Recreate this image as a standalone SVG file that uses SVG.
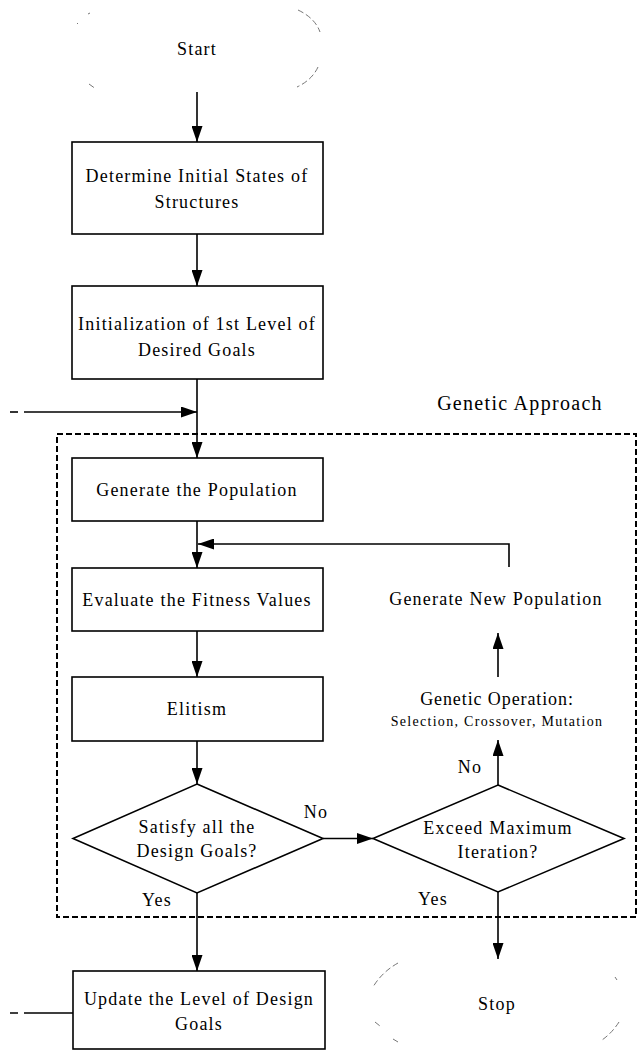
<svg xmlns="http://www.w3.org/2000/svg" width="639" height="1050" viewBox="0 0 639 1050">
<style>
.t{font-family:"Liberation Serif","Times New Roman",serif;font-size:18px;letter-spacing:1.2px;text-anchor:middle;fill:#000}
.s{font-size:14px;letter-spacing:1.3px}
.box{fill:#fff;stroke:#000;stroke-width:1.6}
.ell{fill:none;stroke:#666;stroke-width:0.9;stroke-dasharray:6 3}
.ln{fill:none;stroke:#000;stroke-width:1.6}
.dash{fill:none;stroke:#000;stroke-width:2;stroke-dasharray:6 3}
</style>
<defs>
<marker id="ah" markerUnits="userSpaceOnUse" markerWidth="16" markerHeight="11" refX="16" refY="5.5" orient="auto">
<path d="M0,0 L16,5.5 L0,11 z" fill="#000"/>
</marker>
</defs>
<rect width="639" height="1050" fill="#fff"/>
<g id="genetic-approach">
<rect class="dash" x="57" y="434" width="579" height="483"/>
<text class="t" x="520" y="410" style="font-size:20px;letter-spacing:1.3px">Genetic Approach</text>
</g>
<g id="connectors">
<line class="ln" x1="197" y1="92" x2="197" y2="142" marker-end="url(#ah)"/>
<line class="ln" x1="197" y1="234" x2="197" y2="286" marker-end="url(#ah)"/>
<line class="ln" x1="197" y1="379" x2="197" y2="458" marker-end="url(#ah)"/>
<path class="ln" d="M10,412 h8"/>
<line class="ln" x1="24" y1="412" x2="197" y2="412" marker-end="url(#ah)"/>
<line class="ln" x1="197" y1="521" x2="197" y2="568" marker-end="url(#ah)"/>
<path class="ln" d="M509,567 V544 H198" marker-end="url(#ah)"/>
<line class="ln" x1="197" y1="631" x2="197" y2="677" marker-end="url(#ah)"/>
<line class="ln" x1="197" y1="741" x2="197" y2="784" marker-end="url(#ah)"/>
<line class="ln" x1="323" y1="838.5" x2="373" y2="838.5" marker-end="url(#ah)"/>
<line class="ln" x1="498" y1="785" x2="498" y2="740" marker-end="url(#ah)"/>
<line class="ln" x1="498" y1="677" x2="498" y2="633" marker-end="url(#ah)"/>
<line class="ln" x1="197" y1="893" x2="197" y2="971" marker-end="url(#ah)"/>
<line class="ln" x1="498" y1="892" x2="498" y2="959" marker-end="url(#ah)"/>
<path class="ln" d="M10,1013 h8 M24,1013 H73"/>
</g>
<g id="start">
<path class="ell" d="M298,10 Q315,18 320,32 M318,67 Q312,80 297,87 M77,24 l1,-1 M88,14 l2,-1 M89,84 L96,89"/>
<text class="t" x="197" y="55">Start</text>
</g>
<g id="determine">
<rect class="box" x="72" y="142" width="251" height="92"/>
<text class="t" x="197" y="182">Determine Initial States of</text>
<text class="t" x="197" y="208">Structures</text>
</g>
<g id="initialization">
<rect class="box" x="72" y="286" width="251" height="93"/>
<text class="t" x="197" y="330">Initialization of 1st Level of</text>
<text class="t" x="197" y="356">Desired Goals</text>
</g>
<g id="generate-population">
<rect class="box" x="72" y="458" width="251" height="63"/>
<text class="t" x="197" y="496">Generate the Population</text>
</g>
<g id="evaluate">
<rect class="box" x="72" y="568" width="251" height="63"/>
<text class="t" x="197" y="606">Evaluate the Fitness Values</text>
</g>
<g id="elitism">
<rect class="box" x="72" y="677" width="251" height="64"/>
<text class="t" x="197" y="715">Elitism</text>
</g>
<g id="satisfy">
<polygon class="box" points="197,784 323,838.5 197,893 73,838.5"/>
<text class="t" x="197" y="833">Satisfy all the</text>
<text class="t" x="197" y="857">Design Goals?</text>
<text class="t" x="316" y="818">No</text>
<text class="t" x="157" y="906">Yes</text>
</g>
<g id="exceed">
<polygon class="box" points="498,785 624,838.5 498,892 373,838.5"/>
<text class="t" x="498" y="834">Exceed Maximum</text>
<text class="t" x="498" y="858">Iteration?</text>
<text class="t" x="470" y="773">No</text>
<text class="t" x="433" y="905">Yes</text>
</g>
<g id="genetic-operation">
<text class="t" x="497" y="705" style="letter-spacing:0.9px">Genetic Operation:</text>
<text class="t s" x="497" y="726">Selection, Crossover, Mutation</text>
</g>
<g id="new-population">
<text class="t" x="496" y="605">Generate New Population</text>
</g>
<g id="update">
<rect class="box" x="73" y="971" width="252" height="78"/>
<text class="t" x="199" y="1005">Update the Level of Design</text>
<text class="t" x="199" y="1030">Goals</text>
</g>
<g id="stop">
<path class="ell" d="M398,963 Q382,972 373,987 M375,1022 L380,1026 M393,1039 L398,1042 M615,977 L617,980 M619,1022 Q612,1033 602,1040"/>
<text class="t" x="497" y="1010">Stop</text>
</g>
</svg>
